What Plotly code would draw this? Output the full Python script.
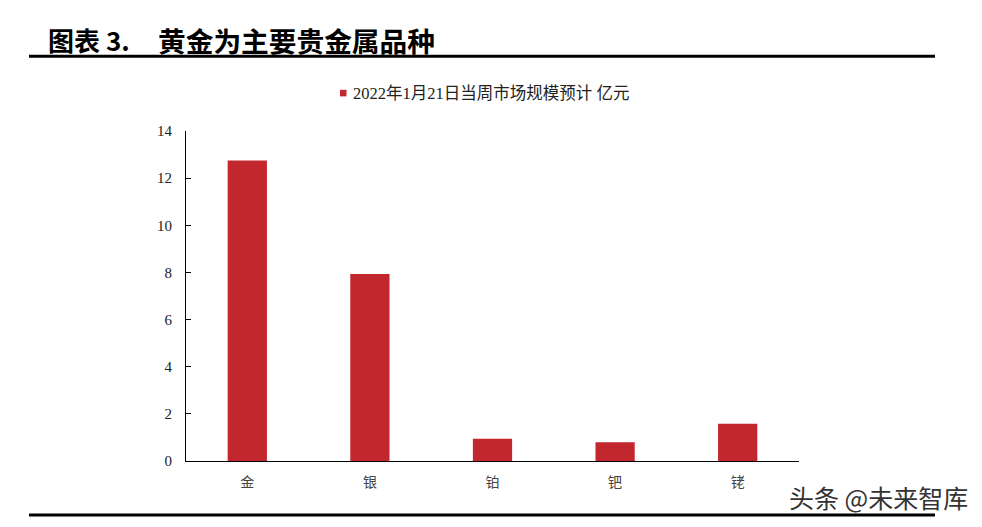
import plotly.graph_objects as go

categories = ["金", "银", "铂", "钯", "铑"]
values = [12.75, 7.93, 0.94, 0.80, 1.58]
y_ticks = [0, 2, 4, 6, 8, 10, 12, 14]
series_name = "2022年1月21日当周市场规模预计 亿元"
title_prefix = "图表 3."
title_main = "黄金为主要贵金属品种"
watermark = "头条 @未来智库"

BAR = "#C1272D"
L, R, T, B = 186, 799, 130.5, 461.3
W, H = R - L, B - T


def px(x):
    return (x - L) / W


def py(y):
    return (B - y) / H


fig = go.Figure()
fig.add_trace(go.Bar(x=categories, y=values, name=series_name,
                     marker=dict(color=BAR, line=dict(width=0)),
                     showlegend=False))

cjk = "Noto Sans CJK SC"
serif = "Liberation Serif, Noto Sans CJK SC"

fig.update_layout(
    width=982, height=527,
    margin=dict(l=L, r=982 - R, t=T, b=527 - B, pad=0),
    paper_bgcolor="white", plot_bgcolor="white",
    bargap=0.68,
    xaxis=dict(type="category", showline=True, linecolor="black", linewidth=1,
               ticks="", showgrid=False, zeroline=False,
               tickfont=dict(family=cjk, size=14, color="#444444"),
               ticklabelstandoff=8),
    yaxis=dict(range=[0, 14], tickvals=y_ticks, showline=True, linecolor="black",
               linewidth=1, ticks="inside", ticklen=5, tickcolor="black",
               showgrid=False, zeroline=False,
               tickfont=dict(family=serif, size=15, color="#222222"),
               ticklabelstandoff=10),
    shapes=[
        dict(type="line", xref="paper", yref="paper", x0=px(29), x1=px(935),
             y0=py(55.5), y1=py(55.5), line=dict(color="black", width=3)),
        dict(type="line", xref="paper", yref="paper", x0=px(29), x1=px(935),
             y0=py(515.5), y1=py(515.5), line=dict(color="black", width=3)),
        dict(type="rect", xref="paper", yref="paper", x0=px(340), x1=px(346.5),
             y0=py(95.8), y1=py(89.2), fillcolor=BAR, line=dict(width=0)),
    ],
    annotations=[
        dict(text=title_prefix, xref="paper", yref="paper", x=px(46), y=py(39),
             xanchor="left", yanchor="middle", showarrow=False,
             font=dict(family=cjk, size=26, color="black", weight="bold")),
        dict(text=title_main, xref="paper", yref="paper", x=px(156), y=py(39),
             xanchor="left", yanchor="middle", showarrow=False,
             font=dict(family=cjk, size=27.7, color="black", weight="bold")),
        dict(text=series_name, xref="paper", yref="paper", x=px(351), y=py(92.5),
             xanchor="left", yanchor="middle", showarrow=False,
             font=dict(family=serif, size=16.5, color="#222222")),
        dict(text=watermark, xref="paper", yref="paper", x=px(787), y=py(497),
             xanchor="left", yanchor="middle", showarrow=False,
             font=dict(family=cjk, size=25, color="#333333")),
    ],
)

fig.write_html("out.html", config={"displayModeBar": False},
               post_script="document.body.style.margin='0';document.body.style.overflow='hidden';")
